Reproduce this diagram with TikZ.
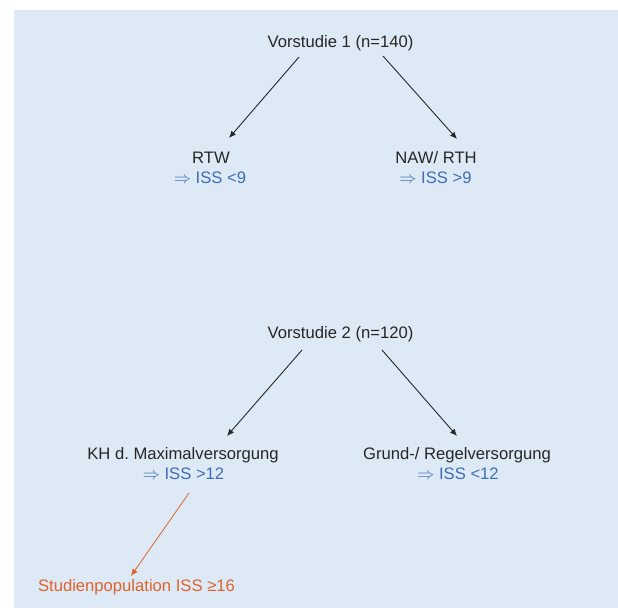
\documentclass[tikz,border=0pt]{standalone}
\usepackage{fontspec}
\setmainfont{Liberation Sans}
\frenchspacing
\usetikzlibrary{arrows.meta,calc}
\definecolor{bg}{HTML}{DDEAF6}
\definecolor{txt}{HTML}{262626}
\definecolor{iss}{HTML}{3E6DB5}
\definecolor{org}{HTML}{E0622C}
\begin{document}
\begin{tikzpicture}[x=1bp,y=-1bp,
  lbl/.style={anchor=base,inner sep=0pt,font=\fontsize{16.7}{20}\selectfont,text=txt},
  isslbl/.style={lbl,text=iss},
  orglbl/.style={lbl,text=org},
  conn/.style={draw=txt,line width=0.9bp,-{Latex[length=7bp,width=6bp]}},
  orgconn/.style={draw=org,line width=0.8bp,-{Latex[length=7bp,width=6bp]}}]
\fill[bg] (14,10) rectangle (618,608);
\useasboundingbox (0,0) rectangle (618,608);
% level 1
\node[lbl] (v1) at (340.5,48) {Vorstudie 1 (n=140)};
\node[lbl] (rtw) at (211,164) {RTW};
\node[isslbl] (rtwiss) at (210,184) {$\Rightarrow$ ISS <9};
\node[lbl] (naw) at (436,164) {NAW/ RTH};
\node[isslbl] (nawiss) at (435.5,184) {$\Rightarrow$ ISS >9};
\draw[conn] ($(v1.base)+(-41.5,9)$) -- ($(rtw.base)+(18,-26)$);
\draw[conn] ($(v1.base)+(42.5,8)$) -- ($(naw.base)+(21,-25)$);
% level 2
\node[lbl] (v2) at (340.5,338) {Vorstudie 2 (n=120)};
\node[lbl] (kh) at (183,459) {KH d. Maximalversorgung};
\node[isslbl] (khiss) at (183.5,479) {$\Rightarrow$ ISS >12};
\node[lbl] (grund) at (457,459) {Grund-/ Regelversorgung};
\node[isslbl] (grundiss) at (458,479) {$\Rightarrow$ ISS <12};
\draw[conn] ($(v2.base)+(-38.5,12)$) -- ($(kh.base)+(44,-23)$);
\draw[conn] ($(v2.base)+(41.5,12)$) -- ($(grund.base)+(0,-23)$);
% study population
\node[orglbl] (stud) at (136.5,591) {Studienpopulation ISS ≥16};
\draw[orgconn] ($(khiss.base)+(5.5,14)$) -- ($(stud.base)+(-5.5,-15)$);
\end{tikzpicture}
\end{document}
